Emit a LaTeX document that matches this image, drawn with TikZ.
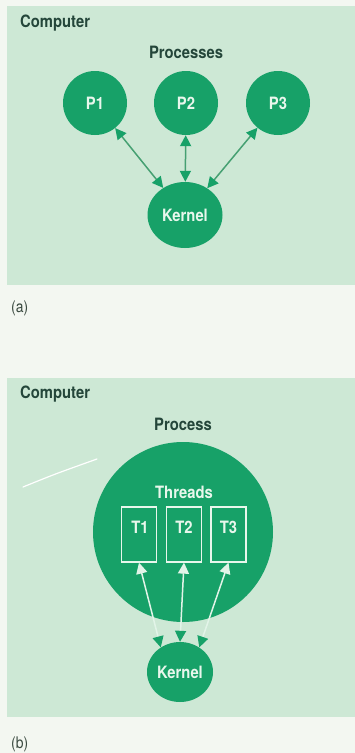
\documentclass[tikz,border=0pt]{standalone}
\usepackage{fontspec}
\newfontfamily\hv[FakeStretch=0.87]{TeX Gyre Heros}
\usetikzlibrary{shapes.geometric,arrows.meta}
\definecolor{pagebg}{HTML}{F3F7F1}
\definecolor{panelbg}{HTML}{CDE8D5}
\definecolor{cgreen}{HTML}{17A168}
\definecolor{darktxt}{HTML}{24463A}
\definecolor{captxt}{HTML}{3A4A40}
\definecolor{lighttxt}{HTML}{E8F7EC}
\definecolor{alink}{HTML}{46A072}
\definecolor{blink}{HTML}{E2F4E8}
\begin{document}
\begin{tikzpicture}[x=1pt,y=-1pt,
  every node/.style={font=\hv\bfseries\fontsize{17}{19}\selectfont},
  panel/.style={fill=panelbg},
  titletxt/.style={text=darktxt, anchor=base, inner sep=0},
  captxt/.style={text=captxt, anchor=base west, inner sep=0, font=\hv\fontsize{16}{18}\selectfont},
  pcirc/.style={circle, fill=cgreen, text=lighttxt, minimum size=64pt, inner sep=0},
  kern/.style={ellipse, fill=cgreen, text=lighttxt, inner sep=0},
  tbox/.style={draw=lighttxt, line width=1.3pt, minimum width=35pt, minimum height=55pt, inner sep=0},
  intxt/.style={text=lighttxt, anchor=base, inner sep=0},
  alinkstyle/.style={draw=alink, line width=1.5pt,
    {Triangle[length=11pt,width=11pt,color=cgreen]}-{Triangle[length=11pt,width=11pt,color=cgreen]}},
  blinkstyle/.style={draw=blink, line width=1.5pt,
    {Triangle[length=11pt,width=11pt,color=blink]}-{Triangle[length=11pt,width=11pt,color=cgreen]}}
]
\useasboundingbox (0,0) rectangle (355,753);
\fill[pagebg] (0,0) rectangle (355,753);

% ---------- panel (a)
\fill[panel] (7,6) rectangle (355,285);
\node[titletxt, anchor=base west] (compa) at (20,27) {Computer};
\node[titletxt] (procsa) at (186,58) {Processes};
\node[pcirc] (p1) at (95,103) {P1};
\node[pcirc] (p2) at (186,103) {P2};
\node[pcirc] (p3) at (278,103) {P3};
\node[kern, minimum width=75pt, minimum height=66pt] (ka) at (185,215) {Kernel};
\draw[alinkstyle] (p1) -- (ka);
\draw[alinkstyle] (p2) -- (ka);
\draw[alinkstyle] (p3) -- (ka);
\node[captxt] (cap-a) at (11,312) {(a)};

% ---------- panel (b)
\fill[panel] (7,378) rectangle (355,717);
\node[titletxt, anchor=base west] (compb) at (20,398) {Computer};
\node[titletxt] (procb) at (183,430) {Process};
\node[circle, fill=cgreen, minimum size=180pt, inner sep=0] (proc) at (183,532) {};
\node[intxt] (thr) at (184,498) {Threads};
\node[tbox] (t1) at (139,534.5) {};
\node[tbox] (t2) at (184,534.5) {};
\node[tbox] (t3) at (228.5,534.5) {};
\node[intxt] (t1l) at (140,533) {T1};
\node[intxt] (t2l) at (184,533) {T2};
\node[intxt] (t3l) at (228.5,533) {T3};
\node[kern, minimum width=66pt, minimum height=60pt] (kb) at (180,672) {Kernel};
\draw[blinkstyle] (t1.south) -- (kb.128);
\draw[blinkstyle] (t2.south) -- (kb.north);
\draw[blinkstyle] (t3.south) -- (kb.52);
\draw[white, line width=1.2pt, line cap=round] (23,487) .. controls (55,474) .. (97,459);
\node[captxt] (cap-b) at (11,748) {(b)};
\end{tikzpicture}
\end{document}
